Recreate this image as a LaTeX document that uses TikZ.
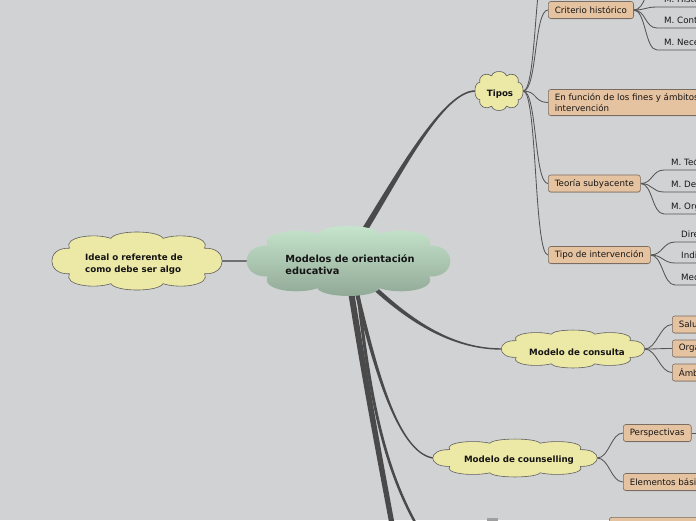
\documentclass[tikz,border=0pt]{standalone}
\usepackage{fontspec}
\setmainfont{DejaVu Sans}
\usetikzlibrary{calc,shadows}
\definecolor{bgc}{HTML}{D1D2D4}
\definecolor{ylw}{HTML}{ECE8A6}
\definecolor{cldedge}{HTML}{5E5E5E}
\definecolor{gtop}{HTML}{C8E6CE}
\definecolor{gbot}{HTML}{8FA795}
\definecolor{boxfill}{HTML}{E6C3A0}
\definecolor{boxedge}{HTML}{7A6C60}
\definecolor{linec}{HTML}{4A4A4A}
\definecolor{thinc}{HTML}{555555}
\definecolor{leftc}{HTML}{707070}
\definecolor{txt}{HTML}{151515}
\pgfdeclarelayer{bgl}
\pgfdeclarelayer{lines}
\pgfsetlayers{bgl,lines,main}
\newcommand\mmtaper[6]{%
  \fill[linec] ($(#1)!#5!90:(#2)$) .. controls ($(#2)!#5!90:(#3)$) and ($(#3)!#6!90:(#4)$) .. ($(#4)!#6!-90:(#3)$)
    -- ($(#4)!#6!90:(#3)$) .. controls ($(#3)!#6!-90:(#4)$) and ($(#2)!#5!-90:(#3)$) .. ($(#1)!#5!-90:(#2)$) -- cycle;}
\newcommand\mmcloud[4]{%
  \path[#4, shift={(#1)}, xscale=#2, yscale=#3]
    (0.78,0.45) .. controls (0.85,0.85) and (0.5,1.0) .. (0.3,0.8)
    .. controls (0.25,1.1) and (-0.25,1.1) .. (-0.3,0.8)
    .. controls (-0.5,1.0) and (-0.85,0.85) .. (-0.78,0.45)
    .. controls (-1.05,0.5) and (-1.05,-0.5) .. (-0.78,-0.45)
    .. controls (-0.85,-0.85) and (-0.5,-1.0) .. (-0.3,-0.8)
    .. controls (-0.25,-1.1) and (0.25,-1.1) .. (0.3,-0.8)
    .. controls (0.5,-1.0) and (0.85,-0.85) .. (0.78,-0.45)
    .. controls (1.05,-0.5) and (1.05,0.5) .. (0.78,0.45) -- cycle;}
\begin{document}
\begin{tikzpicture}[x=1pt,y=-1pt,
  every node/.style={text=txt},
  ycl/.style={draw=cldedge, line width=0.6pt, fill=ylw},
  gcl/.style={top color=gtop, bottom color=gbot},
  frame/.style={rectangle, draw=none, inner sep=0pt},
  ctext/.style={inner sep=0pt, align=left, font=\bfseries\fontsize{8.7}{12}\selectfont},
  obox/.style={rectangle, rounded corners=2.5pt, draw=boxedge, line width=0.6pt, fill=boxfill, anchor=west, inner xsep=6.5pt, inner ysep=2pt, minimum height=17pt, align=left, font=\fontsize{8.7}{11}\selectfont, drop shadow={shadow xshift=0.5pt, shadow yshift=-0.8pt, opacity=0.3}},
  lbl/.style={anchor=base west, inner sep=0pt, font=\fontsize{8.7}{11}\selectfont},
  thinconn/.style={draw=thinc, line width=0.85pt},
]
\useasboundingbox (0,0) rectangle (696,520);
\begin{pgfonlayer}{bgl}
  \fill[bgc] (0,0) rectangle (696,520);
\end{pgfonlayer}
\clip (0,0) rectangle (696,520);

% clouds: outline, frame node, text node
\mmcloud{348.5,261}{103.6}{34.1}{gcl}
\node[frame, minimum width=203pt, minimum height=70pt] (ctr) at (348.5,261) {};
\node[ctext, font=\bfseries\fontsize{9.8}{12}\selectfont] (ctrT) at (350,265) {Modelos de orientación\\educativa};

\mmcloud{137,261}{86.7}{28.3}{ycl}
\node[frame, minimum width=170pt, minimum height=58pt] (ideal) at (137,261) {};
\node[ctext] (idealT) at (134,264.5) {Ideal o referente de\\como debe ser algo};

\mmcloud{499,91}{24.5}{19}{ycl}
\node[frame, minimum width=48pt, minimum height=39pt] (tipos) at (499,91) {};
\node[ctext] (tiposT) at (500,94) {Tipos};

\mmcloud{573,349}{73}{18.5}{ycl}
\node[frame, minimum width=143pt, minimum height=38pt] (cons) at (573,349) {};
\node[ctext] (consT) at (577,352) {Modelo de consulta};

\mmcloud{515,458}{83.7}{18.5}{ycl}
\node[frame, minimum width=164pt, minimum height=38pt] (coun) at (515,458) {};
\node[ctext] (counT) at (519,460) {Modelo de counselling};

% boxes
\node[obox] (crit) at (548,10) {Criterio histórico};
\node[obox, inner ysep=4pt] (fun) at (548,102.5) {En función de los fines y ámbitos de\\intervención};
\node[obox] (teo) at (548,183.5) {Teoría subyacente};
\node[obox] (tint) at (548,255) {Tipo de intervención};
\node[obox] (sal) at (672,324.5) {Salud mental};
\node[obox] (org) at (672,348.5) {Organizacional};
\node[obox] (amb) at (672,372.5) {Ámbito educativo};
\node[obox] (per) at (623,433) {Perspectivas};
\node[obox] (ele) at (623,482) {Elementos básicos};
\node[obox, anchor=north west, minimum width=110pt] (bot) at (609,517) {};
\fill[gray!75] (487,517.5) rectangle (498,521);

% labels
\node[lbl] (ct1) at (664,2) {M. Históricos};
\node[lbl] (ct2) at (664,23) {M. Contemporáneos};
\node[lbl] (ct3) at (664,45) {M. Necesidades sociales};
\node[lbl] (tt1) at (671,165) {M. Teóricos};
\node[lbl] (tt2) at (671,187) {M. De intervención};
\node[lbl] (tt3) at (671,209) {M. Organizativos};
\node[lbl] (it1) at (681,237) {Directa};
\node[lbl] (it2) at (681,258) {Indirecta};
\node[lbl] (it3) at (681,280) {Mediante programas};

% coordinates
\coordinate (hT) at (352,250);
\coordinate (hC) at (368,282);
\coordinate (hN) at (355,285);
\coordinate (hD) at (350,285);
\coordinate (dEnd) at (395,540);
\coordinate (hE) at (357,285);
\coordinate (eEnd) at (440,560);
\coordinate (tipUp) at (548,-45);
\coordinate (cu0) at (657,-15);
\coordinate (cu1) at (657,7);
\coordinate (cu2) at (657,28);
\coordinate (cu3) at (657,50);
\coordinate (tu1) at (664,170);
\coordinate (tu2) at (664,192);
\coordinate (tu3) at (664,214);
\coordinate (iu1) at (675,242);
\coordinate (iu2) at (675,263);
\coordinate (iu3) at (675,285);
\coordinate (perR) at (710,433);

\begin{pgfonlayer}{lines}
  \clip (0,0) rectangle (696,520);
  \mmtaper{hT}{392,188}{440,92}{tipos.west}{3pt}{0.8pt}
  \mmtaper{hC}{400,312}{445,349}{cons.west}{2.2pt}{0.7pt}
  \mmtaper{hN}{375,370}{398,452}{coun.west}{2pt}{0.7pt}
  \mmtaper{hD}{365,380}{380,460}{dEnd}{3pt}{2.6pt}
  \mmtaper{hE}{370,400}{385,490}{eEnd}{1.6pt}{1.2pt}
  \draw[leftc, line width=1.8pt] (ideal.east) -- (ctr.west);
  \foreach \t in {tipUp,crit.west,fun.west,teo.west,tint.west}
    \draw[thinconn] (tipos.east) .. controls +(14,0) and +(-14,0) .. (\t);
  \foreach \u in {cu0,cu1,cu2,cu3}
    \draw[thinconn] (crit.east) .. controls +(12,0) and +(-12,0) .. (\u) -- ++(60,0);
  \foreach \u in {tu1,tu2,tu3}
    \draw[thinconn] (teo.east) .. controls +(12,0) and +(-12,0) .. (\u) -- ++(60,0);
  \foreach \u in {iu1,iu2,iu3}
    \draw[thinconn] (tint.east) .. controls +(12,0) and +(-12,0) .. (\u) -- ++(60,0);
  \foreach \b in {sal,org,amb}
    \draw[thinconn] (cons.east) .. controls +(12,0) and +(-12,0) .. (\b.west);
  \foreach \b in {per,ele}
    \draw[thinconn] (coun.east) .. controls +(12,0) and +(-12,0) .. (\b.west);
  \draw[thinconn] (per.east) -- (perR);
\end{pgfonlayer}
\end{tikzpicture}
\end{document}
